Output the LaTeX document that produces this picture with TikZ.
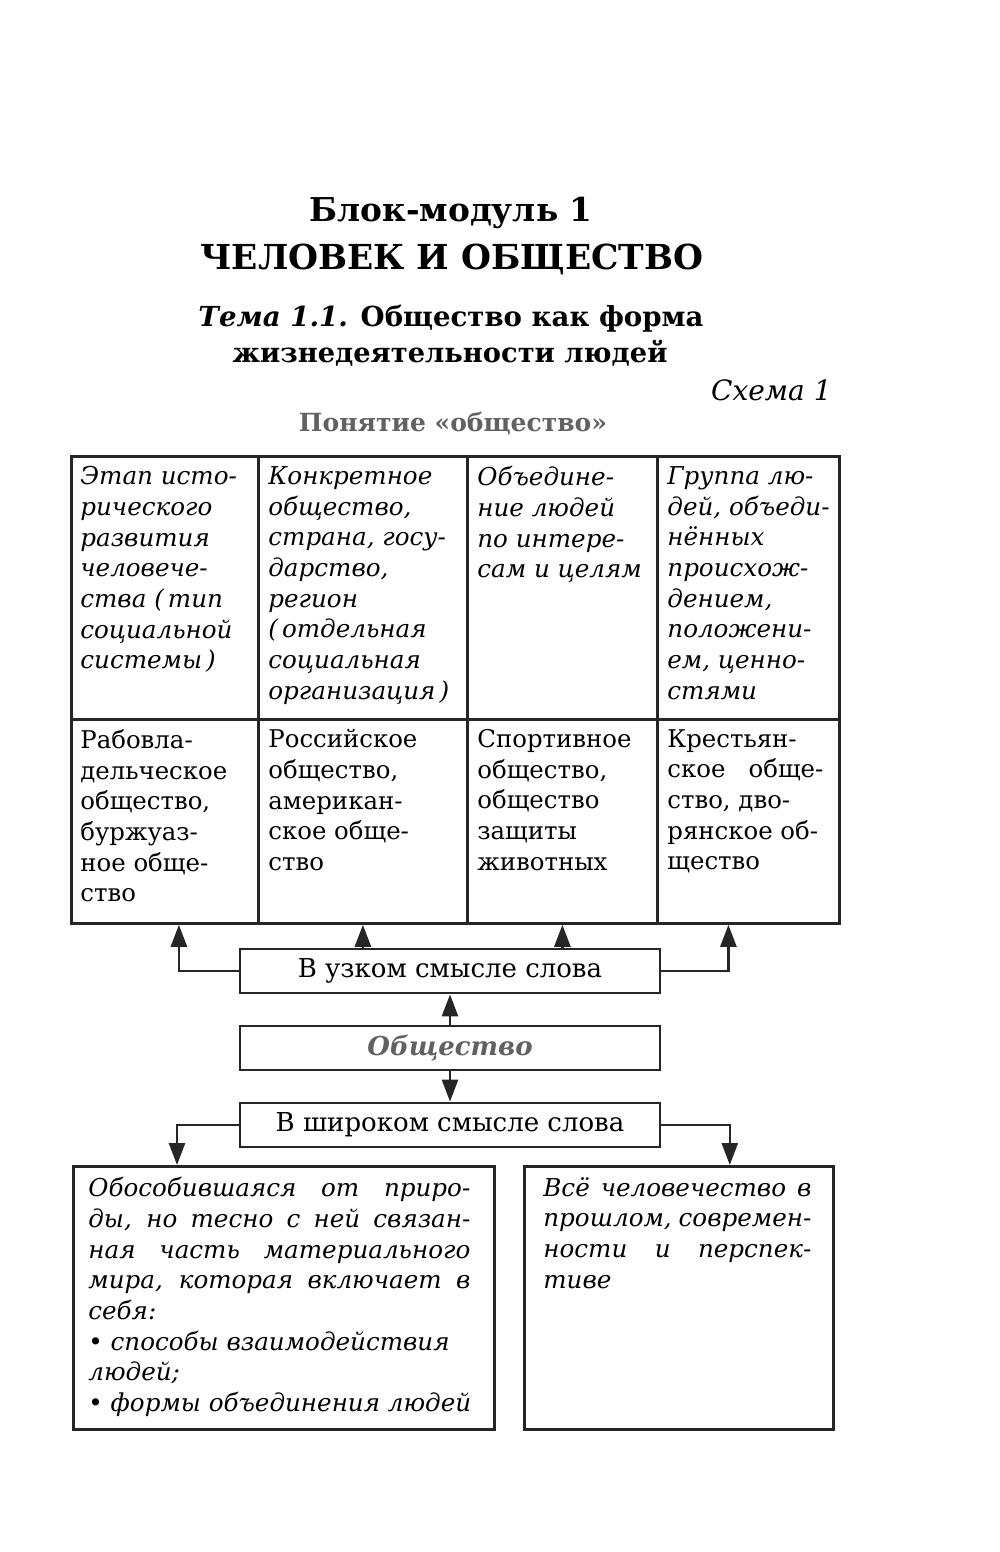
\documentclass[tikz,border=0pt]{standalone}
\usepackage{fontspec}
\setmainfont{DejaVu Serif}
\usetikzlibrary{arrows.meta,calc}
\definecolor{ink}{gray}{0.15}
\definecolor{pale}{gray}{0.38}
\begin{document}
\begin{tikzpicture}[x=0.5pt,y=-0.5pt,
  cell/.style={draw=ink,line width=1.4pt,inner sep=0,anchor=north west},
  txt/.style={anchor=north west,inner sep=0,align=left,font=\fontsize{12.2}{15.35}\selectfont},
  itxt/.style={txt,font=\fontsize{12.3}{15.35}\selectfont\itshape},
  lbl/.style={draw=ink,line width=1.4pt,minimum width=210pt,minimum height=22pt,inner sep=0,font=\fontsize{13}{15}\selectfont},
  arr/.style={draw=ink,line width=1.3pt,-{Triangle[length=11pt,width=8pt]}}]
\useasboundingbox (0,0) rectangle (1000,1552);
% headings
\node[font=\bfseries\fontsize{16.4}{20}\selectfont] (blk) at (451,213) {Блок-модуль 1};
\node[font=\bfseries\fontsize{17.2}{22}\selectfont] (ttl) at (452,259) {ЧЕЛОВЕК И ОБЩЕСТВО};
\node[font=\bfseries\fontsize{13.8}{17}\selectfont] (tem) at (451,319) {\textit{Тема 1.1.} Общество как форма};
\node[font=\bfseries\fontsize{13.65}{17}\selectfont] (zhz) at (450,353) {жизнедеятельности людей};
\node[font=\itshape\fontsize{14}{17}\selectfont,anchor=east,inner sep=0] (sch) at (832,390) {Схема 1};
\node[font=\bfseries\fontsize{12.5}{16}\selectfont,text=pale] (pon) at (453,424) {Понятие «общество»};
% table
\foreach \n/\x/\w in {1/70/93.5,2/257/104.5,3/466/95,4/656/91}{
  \node[cell,minimum width=\w pt,minimum height=131.5pt] (t\n) at (\x,455) {};
  \node[cell,minimum width=\w pt,minimum height=102pt] (b\n) at (\x,718) {};
}
\node[itxt] (e1) at ($(t1.north west)+(10,11)$) {Этап исто-\\рического\\развития\\человече-\\ства (\,тип\\социальной\\системы\,)};
\node[itxt] (e2) at ($(t2.north west)+(11,11)$) {Конкретное\\общество,\\страна, госу-\\дарство,\\регион\\(\,отдельная\\социальная\\организация\,)};
\node[itxt] (e3) at ($(t3.north west)+(11,11)$) {Объедине-\\ние людей\\по интере-\\сам и целям};
\node[itxt] (e4) at ($(t4.north west)+(11,11)$) {Группа лю-\\дей, объеди-\\нённых\\происхож-\\дением,\\положени-\\ем, ценно-\\стями};
\node[txt] (r1) at ($(b1.north west)+(10,11)$) {Рабовла-\\дельческое\\общество,\\буржуаз-\\ное обще-\\ство};
\node[txt] (r2) at ($(b2.north west)+(11,11)$) {Российское\\общество,\\американ-\\ское обще-\\ство};
\node[txt] (r3) at ($(b3.north west)+(11,11)$) {Спортивное\\общество,\\общество\\защиты\\животных};
\node[txt] (r4) at ($(b4.north west)+(11,11)$) {Крестьян-\\\makebox[78pt][s]{ское обще-}\\ство, дво-\\рянское об-\\щество};
% middle column
\node[lbl] (nar) at (450,971) {В узком смысле слова};
\node[lbl,font=\bfseries\itshape\fontsize{13}{15}\selectfont,text=pale] (soc) at (450,1048) {Общество};
\node[lbl] (wid) at (450,1125) {В широком смысле слова};
% bottom boxes
\node[cell,minimum width=210.5pt,minimum height=131.5pt] (bl) at (72,1165) {};
\node[cell,minimum width=154.5pt,minimum height=131.5pt] (br) at (523,1165) {};
\node[itxt] (d1) at ($(bl.north west)+(16,12)$) {\makebox[191pt][s]{Обособившаяся от приро-}\\\makebox[191pt][s]{ды, но тесно с ней связан-}\\\makebox[191pt][s]{ная часть материального}\\\makebox[191pt][s]{мира, которая включает в}\\себя:\\\textbullet\ способы взаимодействия\\людей;\\\textbullet\ формы объединения людей};
\node[itxt] (d2) at ($(br.north west)+(20,12)$) {\makebox[134pt][s]{Всё человечество в}\\\makebox[134pt][s]{прошлом, современ-}\\\makebox[134pt][s]{ности и перспек-}\\тиве};
% arrows
\draw[arr] (nar.west) -| ($(b1.south)+(14,0)$);
\draw[arr] (nar.north -| b2.south) -- (b2.south);
\draw[arr] (nar.north -| b3.south) -- (b3.south);
\draw[arr] (nar.east) -| ($(b4.south)+(-20,0)$);
\draw[arr] (soc.north) -- (nar.south);
\draw[arr] (soc.south) -- (wid.north);
\draw[arr] (wid.west) -| ($(bl.north west)+(105,0)$);
\draw[arr] (wid.east) -| ($(br.north east)+(-105,0)$);
\end{tikzpicture}
\end{document}
